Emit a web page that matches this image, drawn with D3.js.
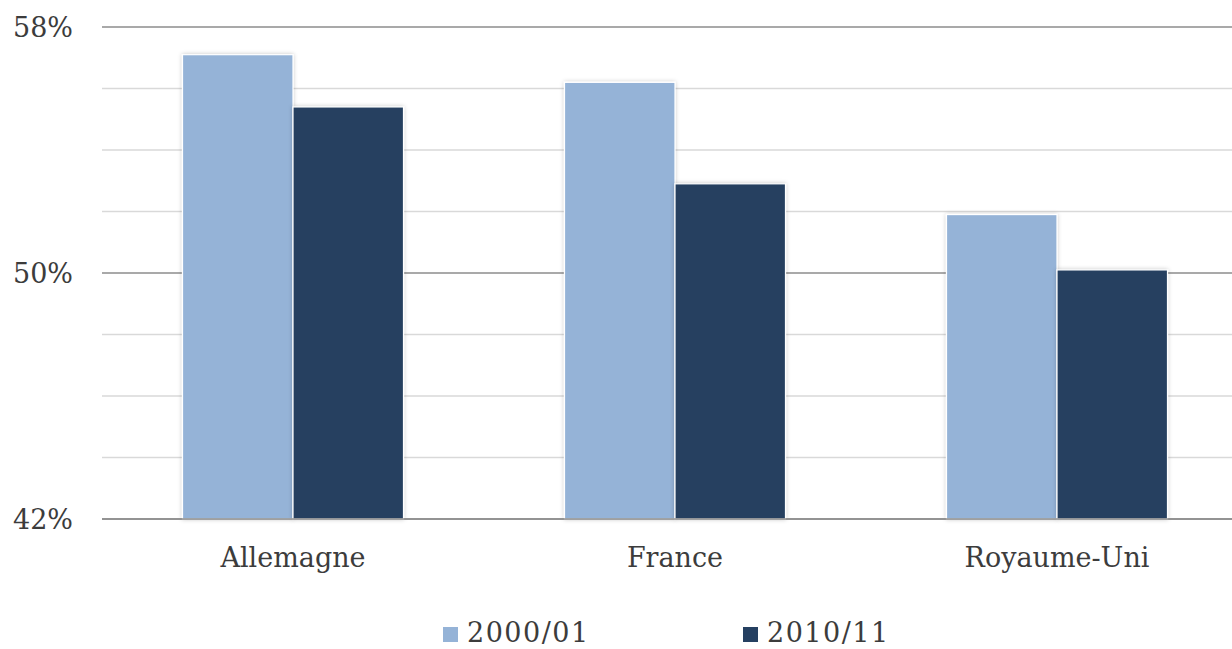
<!DOCTYPE html>
<html>
<head>
<meta charset="utf-8">
<script src="https://cdn.jsdelivr.net/npm/d3@7/dist/d3.min.js"></script>
<style>
  html, body { margin: 0; padding: 0; background: #ffffff; }
  svg { display: block; }
</style>
</head>
<body>
<svg id="chart" width="1232" height="649"></svg>
<script>
// Share (%) by country, two periods
const categories = ["Allemagne", "France", "Royaume-Uni"];
const seriesNames = ["2000/01", "2010/11"];
const values2000 = [57.1, 56.2, 51.9];
const values2010 = [55.4, 52.9, 50.1];
const yTicksMajor = [42, 50, 58];
const yTicksMinor = [44, 46, 48, 52, 54, 56];
const colors = ["#95b3d7", "#254061"];

const W = 1232, H = 649;
const plot = { left: 102, right: 1248, top: 27, bottom: 519 };
const font = "'DejaVu Serif', 'Liberation Serif', serif";
const textColor = "#3c3c3c";

const svg = d3.select("#chart");

const defs = svg.append("defs");
const f = defs.append("filter").attr("id", "barShadow")
  .attr("x", "-10%").attr("y", "-10%").attr("width", "120%").attr("height", "120%");
f.append("feDropShadow").attr("dx", 0).attr("dy", 0)
  .attr("stdDeviation", 2).attr("flood-color", "#000").attr("flood-opacity", 0.22);

const x0 = d3.scaleBand().domain(categories)
  .range([plot.left, plot.right]).paddingInner(0.4215).paddingOuter(0.21075);
const x1 = d3.scaleBand().domain(seriesNames).range([0, x0.bandwidth()]);
const y = d3.scaleLinear().domain([42, 58]).range([plot.bottom, plot.top]);

// minor gridlines
svg.append("g").selectAll("line").data(yTicksMinor).join("line")
  .attr("x1", plot.left).attr("x2", W)
  .attr("y1", d => y(d)).attr("y2", d => y(d))
  .attr("stroke", "#d9d9d9").attr("stroke-width", 1.3);

// major gridlines
svg.append("g").selectAll("line").data(yTicksMajor).join("line")
  .attr("x1", plot.left).attr("x2", W)
  .attr("y1", d => y(d)).attr("y2", d => y(d))
  .attr("stroke", "#8c8c8c").attr("stroke-width", 1.3);

// y-axis labels
svg.append("g").selectAll("text").data(yTicksMajor).join("text")
  .attr("x", 73).attr("y", d => y(d)).attr("dy", "0.36em")
  .attr("text-anchor", "end")
  .attr("font-family", font).attr("font-size", 27)
  .attr("fill", textColor)
  .text(d => d + "%");

// bars
const rows = categories.map((c, i) => ({ cat: c, vals: [values2000[i], values2010[i]] }));
const groups = svg.append("g").selectAll("g").data(rows).join("g")
  .attr("transform", d => `translate(${x0(d.cat)},0)`);
groups.selectAll("rect")
  .data(d => d.vals.map((v, j) => ({ key: seriesNames[j], v, j })))
  .join("rect")
  .attr("x", d => x1(d.key))
  .attr("width", x1.bandwidth())
  .attr("y", d => y(d.v))
  .attr("height", d => y(42) - y(d.v))
  .attr("fill", d => colors[d.j])
  .attr("stroke", "#ffffff").attr("stroke-width", 1.2)
  .attr("filter", "url(#barShadow)");

// redraw base axis line above bars
svg.append("line")
  .attr("x1", plot.left).attr("x2", W)
  .attr("y1", y(42)).attr("y2", y(42))
  .attr("stroke", "#8c8c8c").attr("stroke-width", 1.3);

// category labels
svg.append("g").selectAll("text").data(categories).join("text")
  .attr("x", d => x0(d) + x0.bandwidth() / 2)
  .attr("y", 567)
  .attr("text-anchor", "middle")
  .attr("font-family", font).attr("font-size", 27)
  .attr("fill", textColor)
  .text(d => d);

// legend
const legendX = [443, 743];
const leg = svg.append("g").selectAll("g").data(seriesNames).join("g")
  .attr("transform", (d, i) => `translate(${legendX[i]},627)`);
leg.append("rect").attr("width", 15).attr("height", 15)
  .attr("fill", (d, i) => colors[i]);
leg.append("text").attr("x", 24).attr("y", 15)
  .attr("font-family", font).attr("font-size", 27)
  .attr("letter-spacing", 1.5)
  .attr("fill", textColor)
  .text(d => d);
</script>
</body>
</html>
